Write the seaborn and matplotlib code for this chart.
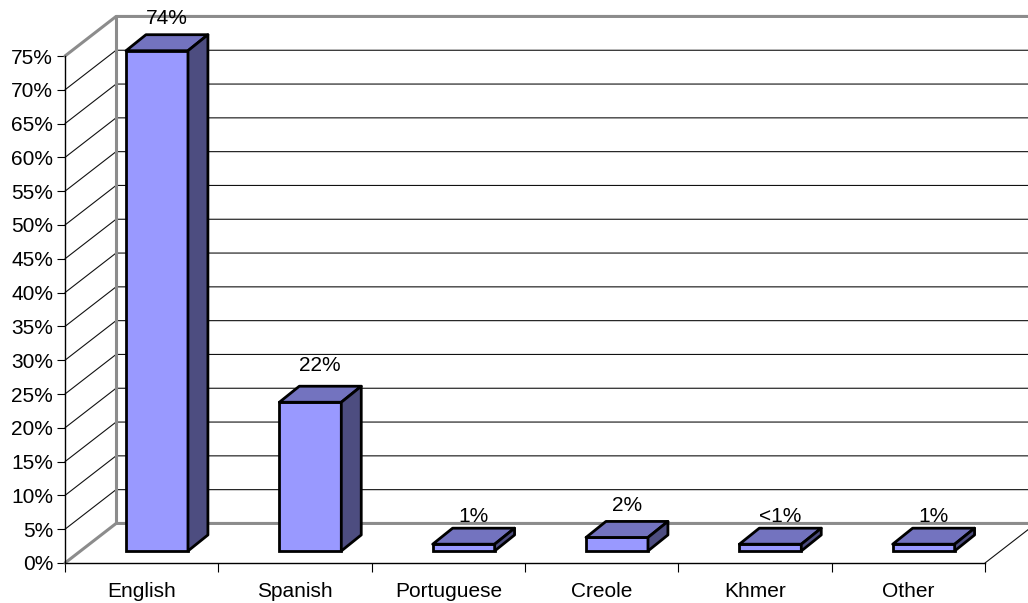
import matplotlib
matplotlib.use("Agg")
import matplotlib.pyplot as plt
from matplotlib.patches import Polygon
from matplotlib.ticker import PercentFormatter
import seaborn as sns

# Input data
languages = ["English", "Spanish", "Portuguese", "Creole", "Khmer", "Other"]
shares = [74, 22, 1, 2, 1, 1]
share_labels = ["74%", "22%", "1%", "2%", "<1%", "1%"]
y_ticks = list(range(0, 80, 5))

# 3D look, in data units (1 category = 153.3 px, 1% = 6.76 px)
wall_dx, wall_dy = 0.333, 5.85
bar_dx, bar_dy = 0.10, 1.78
depth_dx, depth_dy = 0.13, 2.37
label_nudge = [2.4, 3.0, 1.8, 2.4, 1.8, 1.8]

sns.set_theme(style="white")
plt.rcParams["font.family"] = ["Liberation Sans", "DejaVu Sans"]

fig = plt.figure(figsize=(10.28, 6.03), dpi=100)
ax = fig.add_axes([65 / 1028, 40 / 603, 920 / 1028, 507 / 603])

sns.barplot(x=languages, y=shares, width=0.404, color="#9999FF", saturation=1,
            edgecolor="black", linewidth=2, zorder=5, ax=ax)
ax.set_xlim(-0.5, 5.5)
ax.set_ylim(0, 75)

# Walls and floor
left, right = -0.5, 5.5
gray = "#8C8C8C"
for v in y_ticks[1:-1]:
    ax.plot([left, left + wall_dx, right + wall_dx], [v, v + wall_dy, v + wall_dy],
            color="#111111", lw=0.8, clip_on=False, zorder=1)
ax.plot([left, left + wall_dx, right + wall_dx], [75, 75 + wall_dy, 75 + wall_dy],
        color=gray, lw=2.2, clip_on=False, zorder=2)
ax.plot([left, left + wall_dx, right + wall_dx], [0, wall_dy, wall_dy],
        color=gray, lw=2.2, clip_on=False, zorder=2)
ax.plot([left + wall_dx, left + wall_dx], [0 + wall_dy, 75 + wall_dy],
        color=gray, lw=2.2, clip_on=False, zorder=2)
ax.plot([right, right + wall_dx], [0, wall_dy], color="#111111", lw=0.8,
        clip_on=False, zorder=1)

# Bars: move the front face forward, then add top and side faces
for i, bar in enumerate(ax.patches):
    bar.set_x(bar.get_x() + bar_dx)
    bar.set_y(bar.get_y() + bar_dy)
    bar.set_clip_on(False)
    x0, w = bar.get_x(), bar.get_width()
    y0, h = bar.get_y(), bar.get_height()
    x1, y1 = x0 + w, y0 + h
    top = [(x0, y1), (x1, y1), (x1 + depth_dx, y1 + depth_dy), (x0 + depth_dx, y1 + depth_dy)]
    side = [(x1, y0), (x1 + depth_dx, y0 + depth_dy), (x1 + depth_dx, y1 + depth_dy), (x1, y1)]
    ax.add_patch(Polygon(top, closed=True, fc="#7373BF", ec="black", lw=2,
                         clip_on=False, zorder=5, joinstyle="round"))
    ax.add_patch(Polygon(side, closed=True, fc="#4D4D80", ec="black", lw=2,
                         clip_on=False, zorder=5, joinstyle="round"))
    ax.text(x0 + w / 2 + depth_dx / 2, y1 + depth_dy + label_nudge[i], share_labels[i],
            ha="center", va="center", fontsize=15, color="black", zorder=6, clip_on=False)

# Axes
sns.despine(ax=ax)
for s in ["left", "bottom"]:
    ax.spines[s].set_color("black")
    ax.spines[s].set_linewidth(1.0)
    ax.spines[s].set_zorder(3)
ax.set_yticks(y_ticks)
ax.yaxis.set_major_formatter(PercentFormatter(decimals=0))
ax.set_xticks([i - 0.5 for i in range(7)])
ax.set_xticklabels([])
ax.set_xticks(range(6), labels=languages, minor=True)
ax.tick_params(axis="x", which="major", length=6.5, width=0.8, color="black", bottom=True)
ax.tick_params(axis="x", which="minor", length=0, pad=14, labelsize=15, labelcolor="black", bottom=False)
ax.tick_params(axis="y", length=5.5, width=0.8, color="black", left=True, pad=3,
               labelsize=15, labelcolor="black")
ax.set_xlabel("")
ax.set_ylabel("")

fig.savefig("out.png", dpi=100)
